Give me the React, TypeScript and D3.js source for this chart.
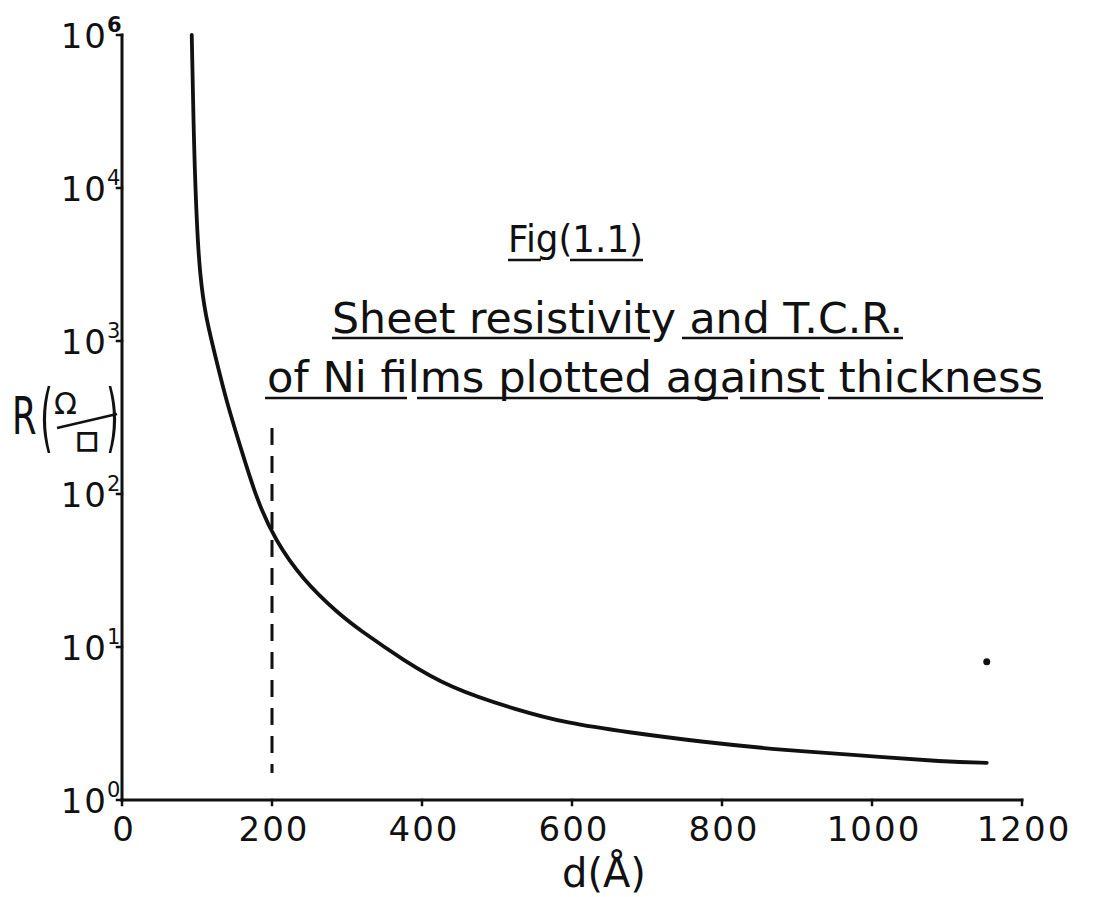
import React from "react";
import * as d3 from "d3";

// Sheet resistance of Ni films versus film thickness d (Å)
const thicknessA = [93, 96, 100, 104, 111, 124, 139, 159, 180, 204, 241, 288, 317, 375, 437, 527, 593, 673, 775, 881, 980, 1100, 1153];
const sheetR = [100000, 17800, 5370, 2700, 1480, 813, 407, 195, 91, 50, 27.5, 16.6, 12.9, 8.2, 5.4, 3.87, 3.18, 2.78, 2.39, 2.12, 1.97, 1.77, 1.75];

// Isolated measured point
const extraPointD = [1153];
const extraPointR = [8.0];

// Dashed marker at d = 200 Å
const markerD = 200;
const markerRTop = 270;
const markerRBottom = 1.5;

const xTicks = [0, 200, 400, 600, 800, 1000, 1200];
const yTickValues = [1, 10, 100, 1000, 10000, 100000];
const yTickExponents = ["0", "1", "2", "3", "4", "6"];

const titleLines = ["Fig(1.1)", "Sheet resistivity and T.C.R.", "of Ni films plotted against thickness"];

const W = 1097;
const H = 897;
const FONT = "'DejaVu Sans', 'Liberation Sans', sans-serif";
const INK = "#111";

export default function App() {
  const x = d3.scaleLinear().domain([0, 1200]).range([122, 1022]);
  const y = d3.scaleLog().domain([1, 100000]).range([800, 35]);

  const pts = thicknessA.map((d, i) => [d, sheetR[i]] as [number, number]);
  const line = d3
    .line<[number, number]>()
    .x((p) => x(p[0]))
    .y((p) => y(p[1]))
    .curve(d3.curveBasis);

  const x0 = x(0);
  const yBase = y(1);

  return (
    <svg
      width={W}
      height={H}
      viewBox={`0 0 ${W} ${H}`}
      style={{ position: "absolute", left: 0, top: 0, background: "#fff" }}
    >
      <rect x={0} y={0} width={W} height={H} fill="#fff" />

      {/* axes */}
      <g stroke={INK} strokeWidth={3} fill="none" strokeLinecap="square">
        <line x1={x0} y1={yBase} x2={x0} y2={y(100000)} />
        <line x1={x0} y1={yBase} x2={x(1200)} y2={yBase} />
        {yTickValues.map((v) => (
          <line key={"yt" + v} x1={x0 - 5} x2={x0} y1={y(v)} y2={y(v)} strokeWidth={2.5} />
        ))}
        {xTicks.map((v) => (
          <line key={"xt" + v} x1={x(v)} x2={x(v)} y1={yBase} y2={yBase + 5} strokeWidth={2.5} />
        ))}
      </g>

      {/* y tick labels */}
      <g fill={INK} fontFamily={FONT}>
        {yTickValues.map((v, i) => (
          <g key={"yl" + v}>
            <text x={x0 - 14} y={y(v) + 13} fontSize={34} textAnchor="end" letterSpacing={2}>
              10
            </text>
            <text x={x0 - 15} y={y(v) - 3} fontSize={21} fontWeight={i === 5 ? "bold" : "normal"}>
              {yTickExponents[i]}
            </text>
          </g>
        ))}
      </g>

      {/* x tick labels */}
      <g fill={INK} fontFamily={FONT} fontSize={34} textAnchor="middle" letterSpacing={2}>
        {xTicks.map((v) => (
          <text key={"xl" + v} x={x(v) + 2} y={yBase + 41}>
            {v}
          </text>
        ))}
      </g>

      {/* axis titles */}
      <text x={562} y={887} fontFamily={FONT} fontSize={40} fill={INK}>
        d(Å)
      </text>
      <g fill={INK} fontFamily={FONT}>
        <text x={12} y={434} fontSize={52} transform="translate(12 434) scale(0.68 1) translate(-12 -434)">
          R
        </text>
        <text x={40} y={443} fontSize={74} transform="translate(40 443) scale(0.45 1) translate(-40 -443)">
          (
        </text>
        <text x={106} y={443} fontSize={74} transform="translate(106 443) scale(0.45 1) translate(-106 -443)">
          )
        </text>
        <text x={54} y={414} fontSize={30}>
          Ω
        </text>
        <text x={76} y={448} fontSize={24} stroke={INK} strokeWidth={1.4}>
          □
        </text>
        <line x1={57} y1={428} x2={117} y2={414} stroke={INK} strokeWidth={2.5} />
      </g>

      {/* titles */}
      <g fill={INK} fontFamily={FONT}>
        <text x={508} y={252} fontSize={37} textLength={135} lengthAdjust="spacingAndGlyphs">
          {titleLines[0]}
        </text>
        <text x={332} y={333} fontSize={43} textLength={571} lengthAdjust="spacingAndGlyphs">
          {titleLines[1]}
        </text>
        <text x={267} y={392} fontSize={43} textLength={776} lengthAdjust="spacingAndGlyphs">
          {titleLines[2]}
        </text>
      </g>
      <g stroke={INK} strokeWidth={2.5}>
        <line x1={508} x2={541} y1={260} y2={260} />
        <line x1={570} x2={643} y1={260} y2={260} />
        <line x1={332} x2={650} y1={338} y2={338} />
        <line x1={682} x2={903} y1={338} y2={338} />
        <line x1={265} x2={407} y1={398} y2={398} />
        <line x1={417} x2={728} y1={398} y2={398} />
        <line x1={740} x2={820} y1={398} y2={398} />
        <line x1={828} x2={1043} y1={398} y2={398} />
      </g>

      {/* dashed marker */}
      <line
        x1={x(markerD)}
        x2={x(markerD)}
        y1={y(markerRTop)}
        y2={y(markerRBottom)}
        stroke={INK}
        strokeWidth={3}
        strokeDasharray="17 11"
      />

      {/* resistance curve */}
      <path d={line(pts) || ""} fill="none" stroke={INK} strokeWidth={3.8} strokeLinecap="round" />

      {extraPointD.map((d, i) => (
        <circle key={"pt" + i} cx={x(d)} cy={y(extraPointR[i])} r={3.5} fill={INK} />
      ))}
    </svg>
  );
}
